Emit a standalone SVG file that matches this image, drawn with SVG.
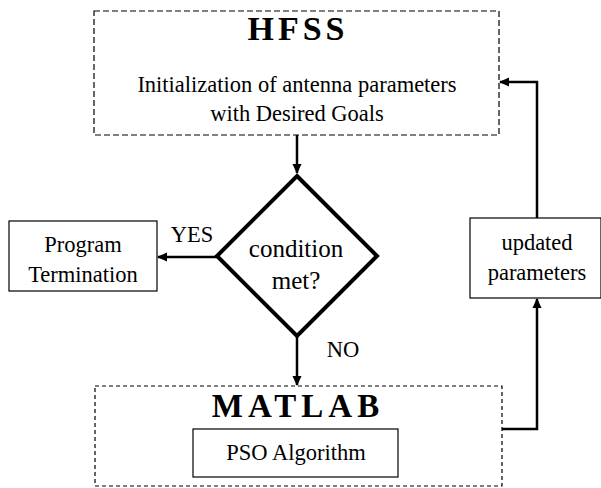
<svg xmlns="http://www.w3.org/2000/svg" width="601" height="488" viewBox="0 0 601 488">
<style>
text{font-family:"Liberation Serif","Times New Roman",serif;fill:#000;text-anchor:middle}
.t{font-size:22.5px}
.h{font-weight:bold;font-size:34px;letter-spacing:4px}
.m{font-weight:bold;font-size:33px;letter-spacing:5px}
.dash1{fill:none;stroke:#000;stroke-width:1.2;stroke-dasharray:6,3}
.dash2{fill:none;stroke:#000;stroke-width:1.2;stroke-dasharray:4,3}
.box{fill:#fff;stroke:#000;stroke-width:1.2}
.c{fill:none;stroke:#000;stroke-width:2.5}
</style>
<defs>
<marker id="ah" markerWidth="10" markerHeight="10" refX="9" refY="5" orient="auto" markerUnits="userSpaceOnUse" viewBox="0 0 10 10">
<path d="M0,0.5 L10,5 L0,9.5 Z" fill="#000"/>
</marker>
</defs>
<g id="hfss">
<rect class="dash1" x="94" y="11" width="405" height="124"/>
<text class="h" x="298" y="40">HFSS</text>
<text class="t" x="297" y="92">Initialization of antenna parameters</text>
<text class="t" x="297" y="121">with Desired Goals</text>
</g>
<g id="decision">
<polygon points="297,176 377,256 297,336 217,256" fill="#fff" stroke="#000" stroke-width="4" stroke-linejoin="miter"/>
<text x="296" y="257" style="font-size:25px">condition</text>
<text x="296" y="289" style="font-size:25px">met?</text>
</g>
<g id="termination">
<rect class="box" x="9" y="221" width="148" height="70"/>
<text class="t" x="83" y="252">Program</text>
<text class="t" x="83" y="282">Termination</text>
</g>
<g id="matlab">
<rect class="dash2" x="95" y="386" width="407" height="100"/>
<text class="m" x="298" y="417">MATLAB</text>
<rect class="box" x="193" y="429" width="205" height="48"/>
<text class="t" x="296" y="460">PSO Algorithm</text>
</g>
<g id="updated">
<rect class="box" x="470" y="218" width="131" height="80"/>
<text class="t" x="537" y="250">updated</text>
<text class="t" x="537" y="280">parameters</text>
</g>
<g id="connectors">
<line class="c" x1="297" y1="135" x2="297" y2="173" marker-end="url(#ah)"/>
<line class="c" x1="217" y1="257" x2="158" y2="257" marker-end="url(#ah)"/>
<line class="c" x1="297" y1="337" x2="297" y2="385" marker-end="url(#ah)"/>
<polyline class="c" points="502,429 537,429 537,299" marker-end="url(#ah)"/>
<polyline class="c" points="537,218 537,82 500,82" marker-end="url(#ah)"/>
<text class="t" x="192" y="242">YES</text>
<text class="t" x="343" y="357">NO</text>
</g>
</svg>
